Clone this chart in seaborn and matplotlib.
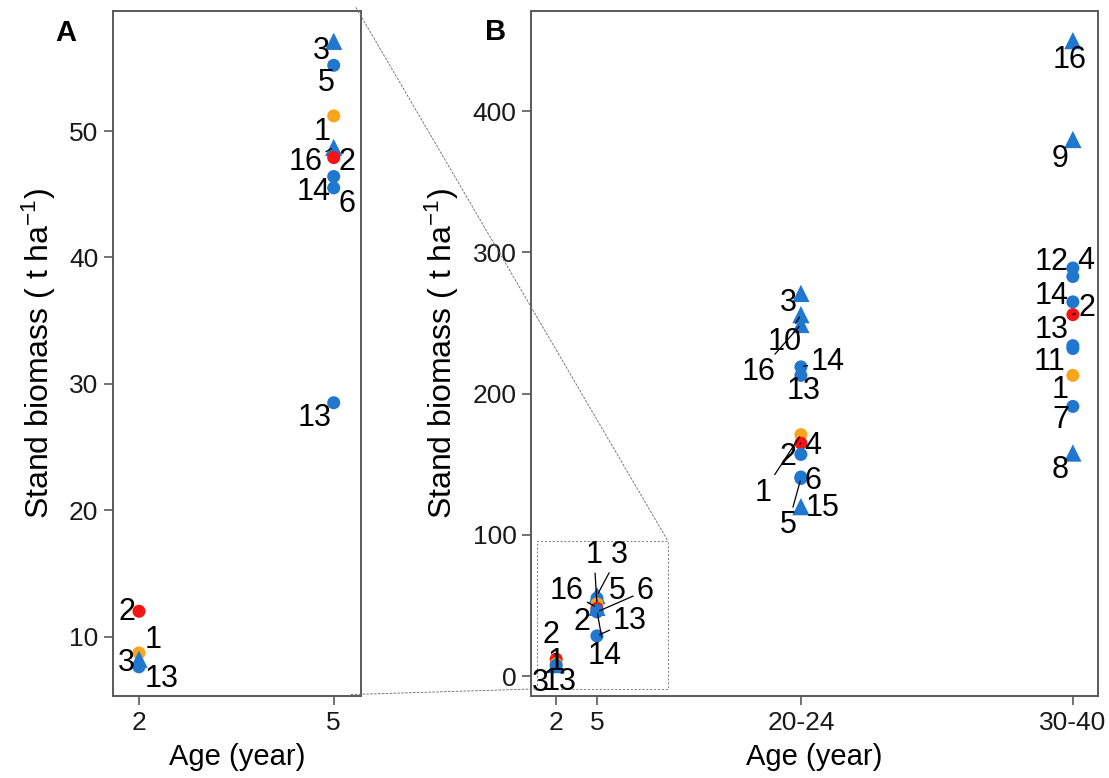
import matplotlib
matplotlib.use("Agg")
import matplotlib.pyplot as plt
import seaborn as sns
import pandas as pd
from matplotlib.patches import Rectangle, ConnectionPatch

sns.set_theme(style="white")
plt.rcParams["font.family"] = ["Liberation Sans", "DejaVu Sans"]
plt.rcParams["mathtext.fontset"] = "custom"
plt.rcParams["mathtext.rm"] = "Liberation Sans"
plt.rcParams["mathtext.it"] = "Liberation Sans:italic"

# ---------------- datos ----------------
age_classes = ["2", "5", "20-24", "30-40"]
age_x = [2, 5, 20, 40]

# edad 2 y 5 (panel A y B)
young_age = [2, 2, 2, 2, 5, 5, 5, 5, 5, 5, 5, 5]
young_id = [2, 1, 3, 13, 3, 5, 1, 16, 2, 14, 6, 13]
young_biomass = [12.0, 8.7, 8.2, 7.6, 57.1, 55.2, 51.2, 48.7, 47.9, 46.4, 45.5, 28.5]
young_kind = ["red", "orange", "tri", "circ", "tri", "circ", "orange", "tri", "red", "circ", "circ", "circ"]

# edad 20-24 y 30-40 (solo panel B)
old_age = [20] * 11 + [40] * 11
old_id = [3, 10, 16, 14, 13, 1, 2, 4, 6, 5, 15,
          16, 9, 12, 4, 14, 2, 13, 11, 1, 7, 8]
old_biomass = [271, 256, 249, 219, 213, 171, 165, 157, 141, 140, 120,
               450, 380, 289, 283, 265, 256, 234, 232, 213, 191, 158]
old_kind = ["tri", "tri", "tri", "circ", "circ", "orange", "red", "circ", "circ", "circ", "tri",
            "tri", "tri", "circ", "circ", "circ", "red", "circ", "circ", "orange", "circ", "tri"]

# posiciones de etiquetas (pixeles, tipo ggrepel) y si llevan línea guía
offs_A = [(-12, -1), (14, 13), (-13, -4), (23, -12),
          (-12, -10), (-7, -18), (-12, -16), (-28, -15), (13, -4), (-20, -15), (13, -16), (-19, -15)]
lead_A = [0, 0, 0, 0, 0, 0, 0, 1, 0, 0, 0, 0]
offs_B = [(-5, 24), (0, 2), (-16, -18), (3, -17),
          (22, 41), (20, 7), (-3, 49), (-30, 16), (-15, -13), (8, -45), (48, 21), (33, 15),
          (-13, -10), (-16, -27), (-42, -48), (27, 5), (3, -16), (-38, -58), (-13, -14), (12, 8), (12, -4), (-13, -47), (22, -1),
          (-3, -19), (-13, -20), (-21, 6), (13, 15), (-21, 6), (14, 7), (-21, 16), (-23, -13), (-13, -15), (-12, -14), (-13, -17)]
lead_B = [1, 0, 0, 0,
          1, 0, 1, 1, 0, 1, 1, 1,
          0, 1, 1, 1, 0, 1, 1, 0, 0, 1, 0,
          0, 0, 0, 0, 0, 1, 0, 0, 0, 0, 0]

df_A = pd.DataFrame({"age": young_age, "id": young_id, "biomass": young_biomass, "kind": young_kind})
df_B = pd.concat([df_A, pd.DataFrame({"age": old_age, "id": old_id, "biomass": old_biomass, "kind": old_kind})],
                 ignore_index=True)

palette = {"circ": "#1f77d0", "tri": "#1f77d0", "orange": "#f7a51c", "red": "#f51414"}
markers = {"circ": "o", "tri": "^", "orange": "o", "red": "o"}
sizes = {"circ": 88, "tri": 155, "orange": 88, "red": 88}

fig = plt.figure(figsize=(11.09, 7.78), dpi=100)
axA = fig.add_axes([0.1019, 0.1055, 0.2236, 0.8804])
axB = fig.add_axes([0.4788, 0.1055, 0.5113, 0.8804])


def draw_panel(ax, df, offs, lead):
    sns.scatterplot(data=df, x="age", y="biomass", hue="kind", style="kind", size="kind",
                    palette=palette, markers=markers, sizes=sizes, linewidth=0,
                    legend=False, ax=ax, zorder=3)
    for (_, r), (dx, dy), ld in zip(df.iterrows(), offs, lead):
        ap = dict(arrowstyle="-", color="black", lw=0.9, shrinkA=0, shrinkB=2) if ld else None
        ax.annotate(str(r["id"]), xy=(r["age"], r["biomass"]), xytext=(dx, dy),
                    textcoords="offset pixels", ha="center", va="center",
                    fontsize=22, color="black", arrowprops=ap, zorder=4)
    for s in ax.spines.values():
        s.set_color("#5a5a5a")
        s.set_linewidth(1.4)
    ax.tick_params(axis="both", which="major", direction="out", length=6.5, width=1.2,
                   color="#5a5a5a", labelcolor="#1a1a1a", labelsize=19, pad=4,
                   bottom=True, left=True)
    ax.set_xlabel("Age (year)", fontsize=21, labelpad=6, color="black")
    ax.set_ylabel("Stand biomass ( t ha$^{-1}$)", fontsize=23, labelpad=8, color="black")


# Panel A
draw_panel(axA, df_A, offs_A, lead_A)
axA.set_xlim(1.6, 5.42)
axA.set_ylim(5.3, 59.5)
axA.set_xticks(age_x[:2])
axA.set_xticklabels(age_classes[:2])
axA.set_yticks([10, 20, 30, 40, 50])
axA.text(-0.19, 0.968, "A", transform=axA.transAxes, fontsize=21, fontweight="bold",
         ha="center", va="center", color="black")

# Panel B
draw_panel(axB, df_B, offs_B, lead_B)
axB.set_xlim(0.15, 41.85)
axB.set_ylim(-14, 471)
axB.set_xticks(age_x)
axB.set_xticklabels(age_classes)
axB.set_yticks([0, 100, 200, 300, 400])
axB.text(-0.062, 0.97, "B", transform=axB.transAxes, fontsize=21, fontweight="bold",
         ha="center", va="center", color="black")

# recuadro de zoom y líneas de conexión
box_x0, box_x1, box_y0, box_y1 = 0.6, 10.2, -9, 96
axB.add_patch(Rectangle((box_x0, box_y0), box_x1 - box_x0, box_y1 - box_y0, fill=False,
                        ls=(0, (2, 2)), lw=0.7, ec="#777777", zorder=1))
for xyA, xyB in [((0.98, 1.005), (box_x1, box_y1)), ((0.96, 0.002), (box_x0, box_y0))]:
    con = ConnectionPatch(xyA=xyA, coordsA=axA.transAxes, xyB=xyB, coordsB=axB.transData,
                          ls=(0, (2, 2)), lw=0.7, color="#777777")
    fig.add_artist(con)

plt.savefig("out.png", dpi=100)
plt.close()
